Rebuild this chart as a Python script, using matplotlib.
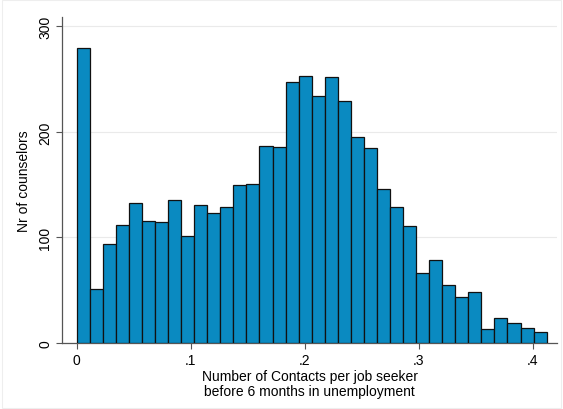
import numpy as np
import matplotlib
matplotlib.use('Agg')
import matplotlib.pyplot as plt

plt.rcParams['font.family'] = ['Liberation Sans', 'DejaVu Sans']

# bar heights (number of counselors) per bin
counts = [279, 51, 94, 112, 133, 116, 115, 135, 101, 131, 123, 129,
          150, 151, 187, 186, 247, 253, 234, 252, 229, 195, 185, 146,
          129, 111, 66, 79, 55, 44, 48, 13, 24, 19, 14, 10]
bin_width = 0.01145
x_ticks = [0, 0.1, 0.2, 0.3, 0.4]
x_labels = ['0', '.1', '.2', '.3', '.4']
y_ticks = [0, 100, 200, 300]

left_edges = np.arange(len(counts)) * bin_width

fig = plt.figure(figsize=(5.63, 4.10), dpi=100, facecolor='white')
ax = fig.add_axes([62/563, 1 - 344/410, (557-62)/563, (344-18)/410])

ax.bar(left_edges, counts, width=bin_width, align='edge',
       color='#0a8ac1', edgecolor='#111111', linewidth=0.9, zorder=3)

ax.set_xlim(-0.0129, 0.4213)
ax.set_ylim(0, 308.8)

ax.set_yticks(y_ticks)
ax.set_yticklabels([str(v) for v in y_ticks], rotation=90, va='center')
ax.set_xticks(x_ticks)
ax.set_xticklabels(x_labels)
ax.grid(axis='y', color='#eaeaea', linewidth=0.8, zorder=0)

for s in ['top', 'right']:
    ax.spines[s].set_visible(False)
for s in ['left', 'bottom']:
    ax.spines[s].set_color('#555555')
    ax.spines[s].set_linewidth(0.9)
ax.tick_params(axis='both', colors='#555555', labelcolor='black',
               labelsize=10, length=4, width=0.8, pad=3)

ax.set_xlabel('Number of Contacts per job seeker\nbefore 6 months in unemployment',
              fontsize=10, labelpad=2, linespacing=1.05)
ax.set_ylabel('Nr of counselors', fontsize=10, labelpad=5)

# faint outer frame
fig.add_artist(plt.Rectangle((0.003, 0.003), 0.994, 0.994, transform=fig.transFigure,
                             fill=False, edgecolor='#eeeeee', linewidth=0.8))

fig.savefig('out.png', dpi=100, facecolor='white')
